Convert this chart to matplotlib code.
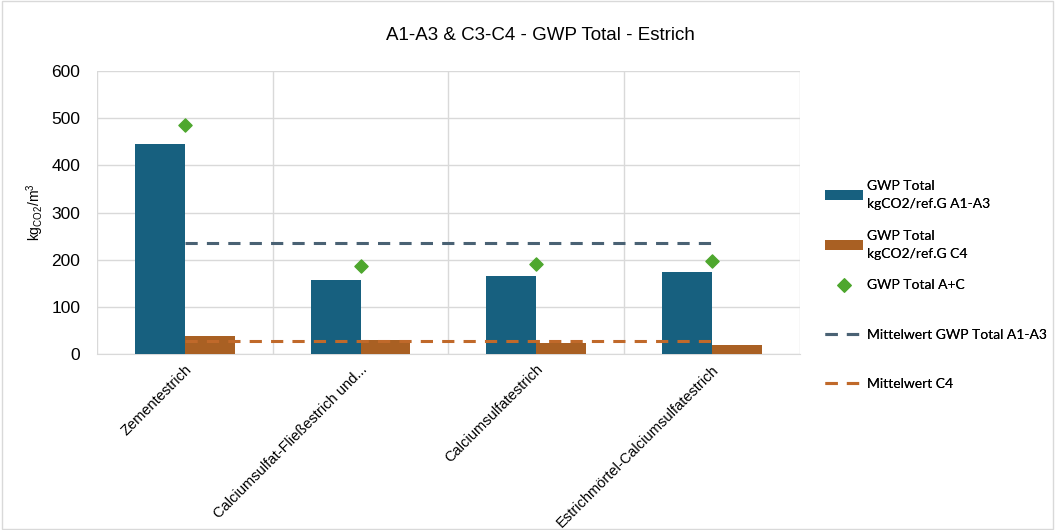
import numpy as np
import matplotlib.pyplot as plt
from matplotlib.patches import Rectangle

# -----------------------------
# Data
# -----------------------------
categories = [
    "Zementestrich",
    "Calciumsulfat-Fließestrich und...",
    "Calciumsulfatestrich",
    "Estrichmörtel-Calciumsulfatestrich",
]
gwp_a1a3 = [445, 157, 165, 174]
gwp_c4 = [38, 30, 23, 19]
gwp_ac = [485, 187, 191, 197]
mean_a1a3 = 235
mean_c4 = 28

yticks = [0, 100, 200, 300, 400, 500, 600]

c_blue = "#17607f"
c_orange = "#a96023"
c_green = "#4ea72e"
c_mean_blue = "#4a6274"
c_mean_orange = "#c0692a"
grid_col = "#d9d9d9"

plt.rcParams["font.family"] = ["Liberation Sans", "DejaVu Sans"]

# -----------------------------
# Plot
# -----------------------------
fig = plt.figure(figsize=(10.55, 5.3), dpi=100)
ax = fig.add_axes([0.092, 0.332, 0.666, 0.534])

x = np.arange(len(categories))
w = 0.284

b1 = ax.bar(x - w / 2, gwp_a1a3, w, color=c_blue, zorder=3,
            label="GWP Total\nkgCO2/ref.G A1-A3")
b2 = ax.bar(x + w / 2, gwp_c4, w, color=c_orange, zorder=3,
            label="GWP Total\nkgCO2/ref.G C4")
pts = ax.scatter(x, gwp_ac, marker="D", s=45, color=c_green, zorder=4,
                 label="GWP Total A+C")
l1, = ax.plot(x, [mean_a1a3] * len(x), "--", color=c_mean_blue, lw=2.2,
              dashes=(4, 3), zorder=4, label="Mittelwert GWP Total A1-A3")
l2, = ax.plot(x, [mean_c4] * len(x), "--", color=c_mean_orange, lw=2.2,
              dashes=(4, 3), zorder=4, label="Mittelwert C4")

ax.set_xlim(-0.5, len(categories) - 0.5)
ax.set_ylim(0, 600)
ax.set_yticks(yticks)
ax.tick_params(axis="y", labelsize=12.5, length=0, pad=12)
ax.set_xticks(x)
ax.set_xticklabels(categories, rotation=45, ha="right", rotation_mode="anchor",
                   fontsize=10.5)
ax.tick_params(axis="x", length=0, pad=6)

# gridlines: horizontal at ticks, vertical at category borders
ax.set_xticks(np.arange(len(categories) + 1) - 0.5, minor=True)
ax.tick_params(axis="x", which="minor", length=0)
ax.grid(True, axis="y", color=grid_col, lw=1, zorder=0)
ax.grid(True, axis="x", which="minor", color=grid_col, lw=1, zorder=0)
ax.grid(False, axis="x", which="major")
for s in ax.spines.values():
    s.set_visible(False)
ax.spines["bottom"].set_visible(True)
ax.spines["bottom"].set_color(grid_col)

ax.set_ylabel(r"kg$_{\mathregular{CO2}}$/m$^{\mathregular{3}}$", fontsize=10, labelpad=4)

fig.text(0.512, 0.933, "A1-A3 & C3-C4 - GWP Total - Estrich", ha="center",
         va="center", fontsize=13.5)

# legend: one entry per slot, spaced like the original
handles = [b1, b2, pts, l1, l2]
slot_y = [195, 245, 285, 335, 384]   # pixel rows of entry centres
for h, yp in zip(handles, slot_y):
    lg = fig.legend(handles=[h], labels=[h.get_label()], loc="center left",
                    bbox_to_anchor=(0.782, 1 - yp / 530), frameon=False,
                    prop={"family": "Lato", "size": 10},
                    handlelength=2.7, handletextpad=0.35, borderpad=0, borderaxespad=0)
    for t in lg.get_texts():
        t.set_linespacing(1.55)
    fig.add_artist(lg)

# outer border
fig.patches.append(Rectangle((0.002, 0.002), 0.996, 0.996, transform=fig.transFigure,
                             fill=False, edgecolor="#d9d9d9", lw=1))

fig.savefig("out.png", dpi=100)
